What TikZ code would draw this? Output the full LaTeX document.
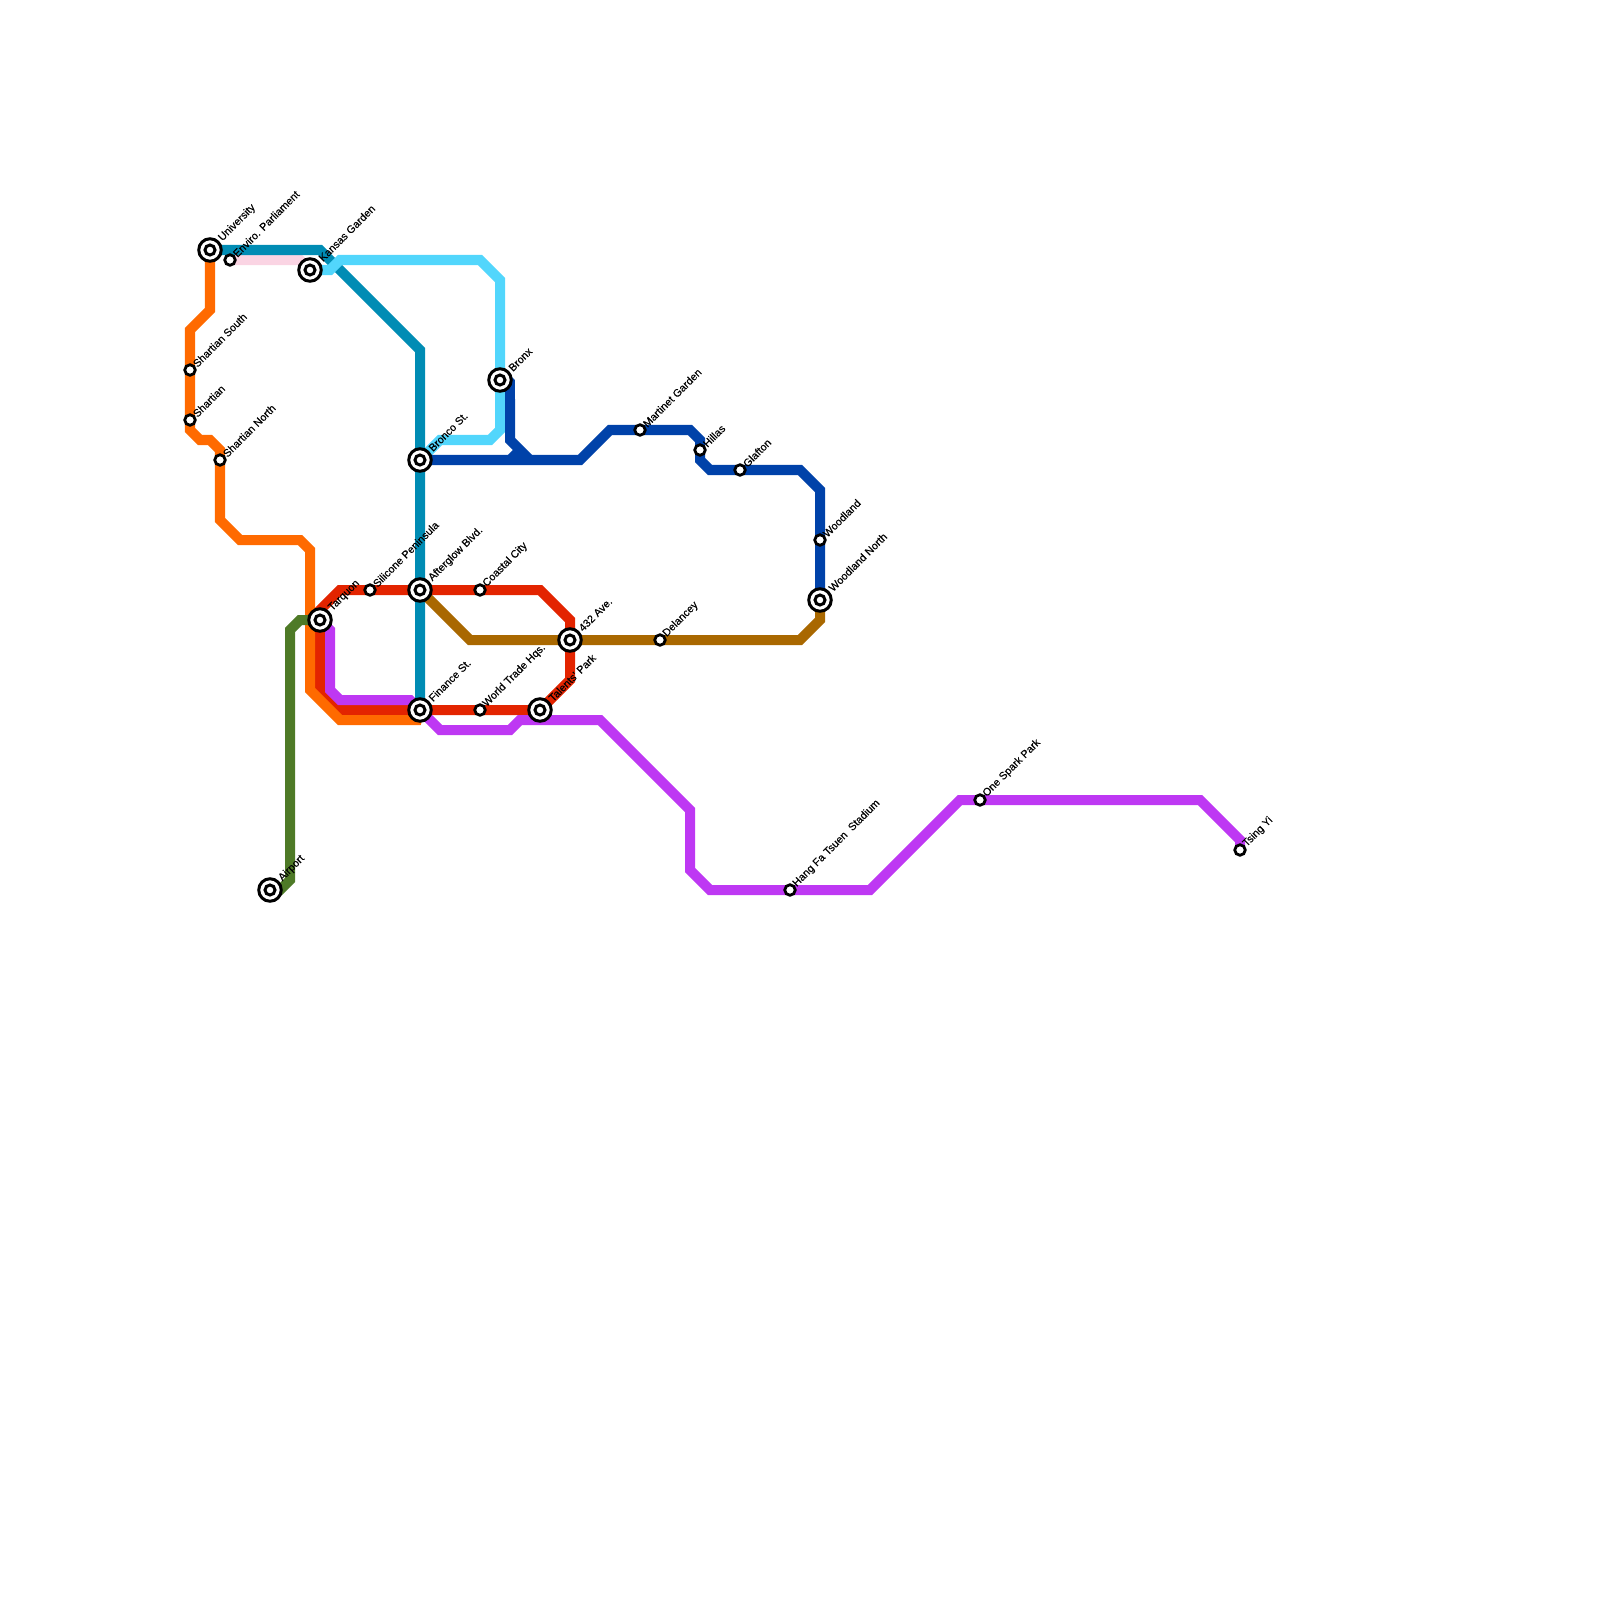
\documentclass[tikz,border=0pt]{standalone}
\usepackage{fontspec}
\setmainfont[FakeBold=0.25]{Liberation Sans}
\usetikzlibrary{backgrounds}
\definecolor{cOrange}{HTML}{FF6A00}
\definecolor{cRed}{HTML}{E32400}
\definecolor{cPurple}{HTML}{BE38F3}
\definecolor{cTeal}{HTML}{008CB4}
\definecolor{cSky}{HTML}{52D6FC}
\definecolor{cBlue}{HTML}{0042A9}
\definecolor{cGreen}{HTML}{4E7A27}
\definecolor{cBrown}{HTML}{A96800}
\definecolor{cPink}{HTML}{FAD4E3}
\tikzset{
  metro/.style={line width=0.1cm,line join=miter,miter limit=10,line cap=butt},
  interst/.style={circle,draw=black,fill=white,line width=0.03cm,minimum size=0.225cm,inner sep=0pt,outer sep=0pt},
  inring/.style={circle,draw=black,fill=white,line width=0.03cm,minimum size=0.1cm,inner sep=0pt,outer sep=0pt},
  smallst/.style={circle,draw=black,fill=white,line width=0.028cm,minimum size=0.105cm,inner sep=0pt,outer sep=0pt},
  lab/.style={rotate=45,anchor=west,inner sep=0pt,outer sep=0pt,font=\fontsize{3.05pt}{3.6pt}\selectfont,text=black}
}
\newcommand{\interchange}[4]{%
  \node[interst] (#1) at (#2,#3) {};
  \node[inring] (#1-c) at (#1.center) {};
  \node[lab] (#1-l) at ([xshift=0.105cm,yshift=0.105cm]#1.center) {#4};
}
\newcommand{\halt}[4]{%
  \node[smallst] (#1) at (#2,#3) {};
  \node[lab] (#1-l) at ([xshift=0.048cm,yshift=0.048cm]#1.center) {#4};
}
\begin{document}
\begin{tikzpicture}[x=0.01cm,y=-0.01cm]
\useasboundingbox (0,0) rectangle (1600,1600);
\interchange{univ}{210}{250}{University}
\halt{enviro}{230}{260}{Enviro. Parliament}
\interchange{kansas}{310}{270}{Kansas Garden}
\halt{shs}{190}{370}{Shartian South}
\halt{sh}{190}{420}{Shartian}
\halt{shn}{220}{460}{Shartian North}
\interchange{bronco}{420}{460}{Bronco St.}
\interchange{bronx}{500}{380}{Bronx}
\halt{martinet}{640}{430}{Martinet Garden}
\halt{hillas}{700}{450}{Hillas}
\halt{glafton}{740}{470}{Glafton}
\halt{woodland}{820}{540}{Woodland}
\interchange{woodn}{820}{600}{Woodland North}
\interchange{ave}{570}{640}{432 Ave.}
\halt{delancey}{660}{640}{Delancey}
\interchange{afterglow}{420}{590}{Afterglow Blvd.}
\halt{silicone}{370}{590}{Silicone Peninsula}
\halt{coastal}{480}{590}{Coastal City}
\interchange{tarquon}{320}{620}{Tarquon}
\interchange{finance}{420}{710}{Finance St.}
\halt{wth}{480}{710}{World Trade Hqs.}
\interchange{talents}{540}{710}{Talents' Park}
\interchange{airport}{270}{890}{Airport}
\halt{hangfa}{790}{890}{Hang Fa Tsuen\ \ Stadium}
\halt{spark}{980}{800}{One Spark Park}
\halt{tsing}{1240}{850}{Tsing Yi}
\begin{scope}[on background layer]
\draw[metro,cPink] (enviro.center) -- (300,260) -- (kansas.center);
\draw[metro,cTeal] (univ.center) -- (320,250) -- (420,350) -- (bronco.center) -- (afterglow.center) -- (finance.center);
\draw[metro,cSky] (kansas.center) -- (330,270) -- (340,260) -- (480,260) -- (500,280) -- (bronx.center) -- (500,430) -- (490,440) -- (440,440) -- (bronco.center);
\draw[metro,cRed] (tarquon.center) -- (320,610) -- (340,590) -- (silicone.center) -- (afterglow.center) -- (coastal.center) -- (540,590) -- (570,620) -- (ave.center) -- (570,680) -- (talents.center) -- (wth.center) -- (finance.center) -- (340,710) -- (320,690) -- (tarquon.center);
\draw[metro,cPurple] (tarquon.center) -- (330,630) -- (330,690) -- (340,700) -- (410,700) -- (finance.center) -- (440,730) -- (510,730) -- (520,720) -- (600,720) -- (690,810) -- (690,870) -- (710,890) -- (hangfa.center) -- (870,890) -- (960,800) -- (spark.center) -- (1200,800) -- (1240,840) -- (tsing.center);
\draw[metro,cOrange] (univ.center) -- (210,310) -- (190,330) -- (shs.center) -- (sh.center) -- (190,430) -- (200,440) -- (210,440) -- (220,450) -- (shn.center) -- (220,520) -- (240,540) -- (300,540) -- (310,550) -- (310,690) -- (340,720) -- (417,720) -- (finance.center);
\draw[metro,cGreen] (airport.center) -- (280,890) -- (290,880) -- (290,630) -- (300,620) -- (tarquon.center);
\draw[metro,cBrown] (afterglow.center) -- (470,640) -- (ave.center) -- (delancey.center) -- (800,640) -- (820,620) -- (woodn.center);
\draw[metro,cBlue] (bronco.center) -- (580,460) -- (610,430) -- (martinet.center) -- (690,430) -- (700,440) -- (hillas.center) -- (700,460) -- (710,470) -- (glafton.center) -- (800,470) -- (820,490) -- (woodland.center) -- (woodn.center);
\draw[metro,cBlue,line join=bevel] (bronx.center) -- (510,380) -- (510,400);
\draw[metro,cBlue] (510,399) -- (510,440) -- (530,460);
\draw[metro,cBlue] (510,460) -- (520,450);
\end{scope}
\end{tikzpicture}
\end{document}
